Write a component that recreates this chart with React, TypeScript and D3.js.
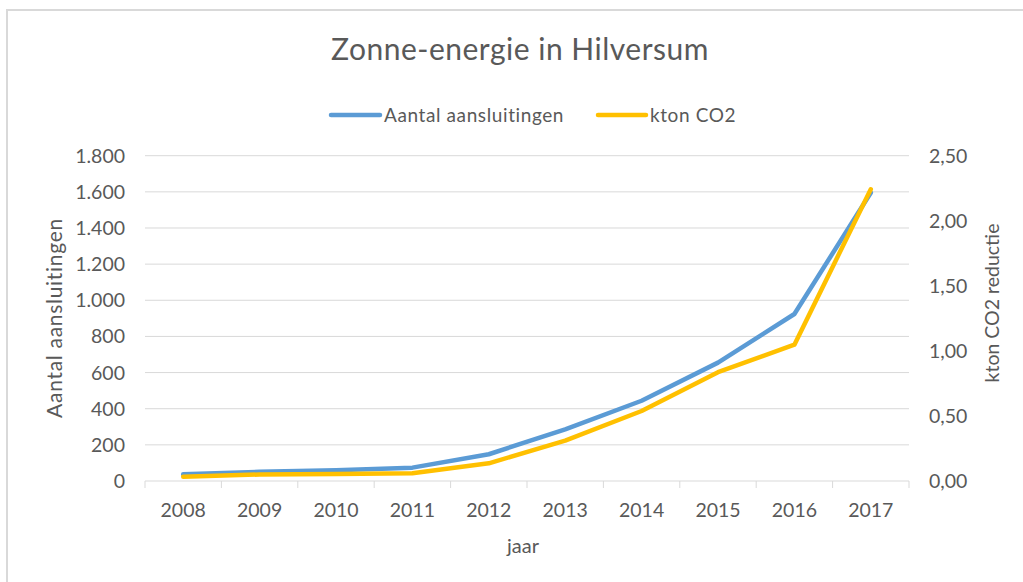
import React from 'react';
import * as d3 from 'd3';

// data
const years = ['2008', '2009', '2010', '2011', '2012', '2013', '2014', '2015', '2016', '2017'];
const aansluitingen = [37, 51, 60, 74, 148, 286, 444, 655, 924, 1595];
const ktonCO2 = [0.033, 0.05, 0.054, 0.06, 0.136, 0.31, 0.538, 0.836, 1.048, 2.242];
const leftTicks = [0, 200, 400, 600, 800, 1000, 1200, 1400, 1600, 1800];
const rightTicks = [0, 0.5, 1, 1.5, 2, 2.5];

const nl = d3.formatLocale({ decimal: ',', thousands: '.', grouping: [3], currency: ['€', ''] });
const fmtLeft = nl.format(',.0f');
const fmtRight = nl.format(',.2f');

const App = () => {
  const width = 1023;
  const height = 582;
  const margin = { top: 155.7, right: 114, bottom: 101, left: 145 };

  const font = 'Lato, "Open Sans", sans-serif';
  const textColor = '#595959';
  const gridColor = '#d9d9d9';
  const blue = '#5B9BD5';
  const yellow = '#FFC000';

  const x = d3.scaleBand().domain(years).range([margin.left, width - margin.right]).padding(0);
  const yL = d3.scaleLinear().domain([0, 1800]).range([height - margin.bottom, margin.top]);
  const yR = d3.scaleLinear().domain([0, 2.5]).range([height - margin.bottom, margin.top]);

  const cx = (d: string) => (x(d) as number) + x.bandwidth() / 2;

  const lineL = d3.line<number>().x((_, i) => cx(years[i])).y((d) => yL(d));
  const lineR = d3.line<number>().x((_, i) => cx(years[i])).y((d) => yR(d));

  const x0 = margin.left;
  const x1 = width - margin.right;
  const yBase = yL(0);

  // tick positions on category boundaries
  const boundaries = years.map((d) => x(d) as number).concat([x1]);

  return (
    <svg width={width} height={height} style={{ position: 'absolute', left: 0, top: 0, background: '#fff' }}>
      {/* chart frame */}
      <rect x={7} y={10} width={width + 10} height={height + 10} fill="#fff" stroke={gridColor} strokeWidth={2} />

      <text x={520} y={60} textAnchor="middle" fontFamily={font} fontSize={30} letterSpacing={0.5} fill={textColor}>
        Zonne-energie in Hilversum
      </text>

      {/* legend */}
      <g fontFamily={font} fontSize={19} letterSpacing={0.6} fill={textColor}>
        <line x1={331} x2={380} y1={115} y2={115} stroke={blue} strokeWidth={4.5} strokeLinecap="round" />
        <text x={384} y={122}>Aantal aansluitingen</text>
        <line x1={598} x2={646} y1={115} y2={115} stroke={yellow} strokeWidth={4.5} strokeLinecap="round" />
        <text x={650} y={122}>kton CO2</text>
      </g>

      {/* gridlines */}
      {leftTicks.slice(1).map((t) => (
        <line key={'g' + t} x1={x0} x2={x1} y1={yL(t)} y2={yL(t)} stroke={gridColor} strokeWidth={1} />
      ))}

      {/* x axis */}
      <line x1={x0} x2={x1} y1={yBase} y2={yBase} stroke={gridColor} strokeWidth={1} />
      {boundaries.map((b, i) => (
        <line key={'t' + i} x1={b} x2={b} y1={yBase} y2={yBase + 7} stroke={gridColor} strokeWidth={1} />
      ))}
      <g fontFamily={font} fontSize={19.5} fill={textColor} textAnchor="middle">
        {years.map((d) => (
          <text key={d} x={cx(d)} y={517}>{d}</text>
        ))}
      </g>

      {/* left axis labels */}
      <g fontFamily={font} fontSize={19.5} fill={textColor} textAnchor="end">
        {leftTicks.map((t) => (
          <text key={'l' + t} x={125} y={yL(t) + 7}>{fmtLeft(t)}</text>
        ))}
      </g>

      {/* right axis labels */}
      <g fontFamily={font} fontSize={19.5} fill={textColor} textAnchor="start">
        {rightTicks.map((t) => (
          <text key={'r' + t} x={929} y={yR(t) + 7}>{fmtRight(t)}</text>
        ))}
      </g>

      {/* axis titles */}
      <text transform="translate(62,318) rotate(-90)" textAnchor="middle" fontFamily={font} fontSize={21} letterSpacing={0.7} fill={textColor}>
        Aantal aansluitingen
      </text>
      <text transform="translate(999,303) rotate(-90)" textAnchor="middle" fontFamily={font} fontSize={19.5} fill={textColor}>
        kton CO2 reductie
      </text>
      <text x={523} y={553} textAnchor="middle" fontFamily={font} fontSize={20} fill={textColor}>
        jaar
      </text>

      {/* series */}
      <path d={lineL(aansluitingen) || ''} fill="none" stroke={blue} strokeWidth={4.5} strokeLinejoin="round" strokeLinecap="round" />
      <path d={lineR(ktonCO2) || ''} fill="none" stroke={yellow} strokeWidth={4.5} strokeLinejoin="round" strokeLinecap="round" />
    </svg>
  );
};

export default App;
